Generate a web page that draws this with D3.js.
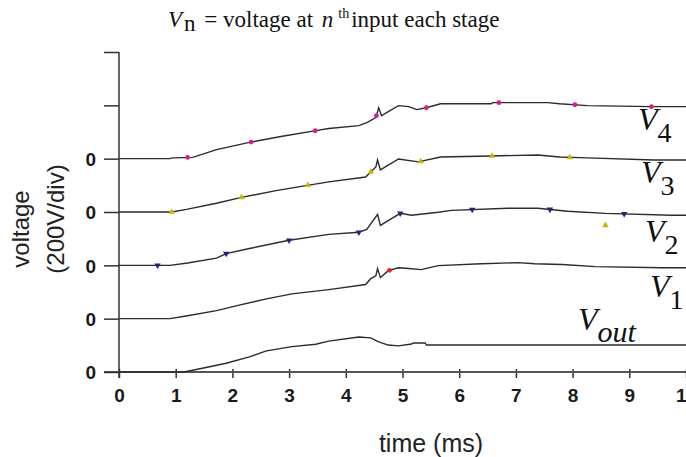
<!DOCTYPE html>
<html>
<head>
<meta charset="utf-8">
<script src="https://cdn.jsdelivr.net/npm/d3@7"></script>
<style>
  body { margin: 0; background: #fff; }
  svg { display: block; }
</style>
</head>
<body>
<div id="chart"></div>
<script>
// traces: [time (ms), volts above own baseline]
const vOut = [[0,0],[1.15,0],[1.47,14],[1.89,33],[2.3,57],[2.6,79],[3.05,95],[3.47,104],[3.7,116],[4.23,131],[4.44,128],[4.58,113],[4.75,101],[4.93,98],[5.16,105],[5.19,109],[5.4,109],[5.42,101],[10,101]];
const v1 = [[0,0],[0.9,0],[1.21,11],[1.72,30],[2.12,51],[2.6,74],[3.05,93],[3.7,109],[4.35,128],[4.44,150],[4.53,161],[4.56,188],[4.61,154],[4.75,180],[4.93,191],[5.11,188],[5.33,184],[5.63,199],[6.39,206],[7.04,210],[7.33,206],[7.82,203],[8.4,195],[9.58,191],[10,191]];
const v2 = [[0,0],[0.9,0],[1.21,9],[1.72,27],[1.89,44],[2.3,63],[3.0,94],[3.7,116],[4.23,124],[4.37,135],[4.56,191],[4.61,150],[4.96,195],[5.16,188],[5.63,199],[5.86,206],[6.86,214],[7.39,214],[7.91,203],[8.58,195],[9.75,188],[10,188]];
const v3 = [[0,0],[0.93,0],[1.19,10],[1.72,33],[2.16,55],[2.77,80],[3.35,101],[3.7,113],[4.35,131],[4.44,150],[4.53,169],[4.56,195],[4.61,158],[4.93,199],[5.28,188],[5.67,206],[6.56,210],[7.39,214],[7.77,206],[8.26,203],[9.44,195],[10,195]];
const v4 = [[0,0],[0.89,0],[0.95,3],[1.3,5],[1.72,34],[2.3,61],[2.88,84],[3.47,105],[3.7,113],[4.23,124],[4.37,135],[4.53,154],[4.58,191],[4.63,161],[4.72,173],[4.93,199],[5.11,195],[5.25,184],[5.42,191],[5.67,206],[6.56,206],[6.6,210],[7.56,210],[7.77,206],[8.26,199],[9.4,195],[10,195]];

// each trace is shifted up one division (200 V)
const traces = [vOut, v1, v2, v3, v4];
const offsets = [0, 200, 400, 600, 800];

// coloured sample marks sitting on the traces (times in ms)
const marksV4 = [1.21, 2.33, 3.46, 4.54, 5.42, 6.70, 8.04, 9.39];
const marksV3 = [0.93, 2.16, 3.33, 4.44, 5.32, 6.58, 7.95];
const marksV2 = [0.68, 1.89, 3.0, 4.23, 4.96, 6.23, 7.60, 8.91];
const marksV1 = [4.77];
const strayMark = [8.58, 550]; // lone yellow mark below V2

const xTicks = [0, 1, 2, 3, 4, 5, 6, 7, 8, 9, 10];
const yTicks = [0, 200, 400, 600, 800, 1000, 1200];

const width = 686, height = 457;
const svg = d3.select('#chart').append('svg')
    .attr('width', width)
    .attr('height', height);

const x = d3.scaleLinear().domain([0, 10]).range([119, 686]);
const y = d3.scaleLinear().domain([0, 1200]).range([372, 52]);

const sans = '"Liberation Sans", Arial, sans-serif';
const serif = '"Liberation Serif", "Times New Roman", serif';

// axe des x
const xAxis = svg.append('g')
    .attr('transform', `translate(0,${y(0)})`)
    .call(d3.axisBottom(x).tickValues(xTicks).tickSize(6).tickFormat(d => d));
xAxis.select('.domain').remove();
xAxis.selectAll('.tick line').attr('y1', -3).attr('stroke', '#333').attr('stroke-width', 1.5);
xAxis.selectAll('.tick text')
    .attr('y', 30).attr('dy', 0)
    .style('font', `bold 19px ${sans}`)
    .attr('fill', '#1a1a1a');
svg.append('line')
    .attr('x1', 104).attr('x2', width)
    .attr('y1', y(0)).attr('y2', y(0))
    .attr('stroke', '#555').attr('stroke-width', 2);

// axe des y
const yAxis = svg.append('g')
    .attr('transform', `translate(${x(0)},0)`)
    .call(d3.axisLeft(y).tickValues(yTicks).tickSize(15).tickPadding(8)
        .tickFormat(d => d <= 800 ? '0' : ''));
yAxis.select('.domain').remove();
yAxis.selectAll('.tick line').attr('stroke', '#333').attr('stroke-width', 1.5);
yAxis.selectAll('.tick text')
    .attr('dy', '0.36em')
    .style('font', `bold 19px ${sans}`)
    .attr('fill', '#1a1a1a');
svg.append('line')
    .attr('x1', x(0)).attr('x2', x(0))
    .attr('y1', y(1200)).attr('y2', y(0) + 6)
    .attr('stroke', '#333').attr('stroke-width', 1.5);

// traces
const line = d3.line()
    .x(d => x(d[0]))
    .y(d => y(d[1]));

traces.forEach((tr, i) => {
    svg.append('path')
        .datum(tr.map(d => [d[0], d[1] + offsets[i]]))
        .attr('fill', 'none')
        .attr('stroke', '#2b2b2b')
        .attr('stroke-width', 1.4)
        .attr('d', line);
});

// valeur d'une trace a un instant donne
function valueAt(tr, t) {
    for (let k = 1; k < tr.length; k++) {
        if (t <= tr[k][0]) {
            const a = tr[k - 1], b = tr[k];
            const f = (t - a[0]) / (b[0] - a[0] || 1);
            return a[1] + f * (b[1] - a[1]);
        }
    }
    return tr[tr.length - 1][1];
}

function drawMarks(times, tr, offset, symbol, color, rotate) {
    svg.selectAll(null)
        .data(times)
        .enter()
        .append('path')
        .attr('d', d3.symbol().type(symbol).size(18))
        .attr('fill', color)
        .attr('transform', t => `translate(${x(t)},${y(valueAt(tr, t) + offset)}) rotate(${rotate})`);
}

drawMarks(marksV4, v4, 800, d3.symbolCircle, '#d0208c', 0);
drawMarks(marksV3, v3, 600, d3.symbolTriangle, '#c2b800', 0);
drawMarks(marksV2, v2, 400, d3.symbolTriangle, '#23237e', 180);
drawMarks(marksV1, v1, 200, d3.symbolCircle, '#e02424', 0);
svg.append('path')
    .attr('d', d3.symbol().type(d3.symbolTriangle).size(18))
    .attr('fill', '#c2b800')
    .attr('transform', `translate(${x(strayMark[0])},${y(strayMark[1])})`);

// etiquettes des traces
const labels = [
    { sub: '4', x: 638, y: 130 },
    { sub: '3', x: 641, y: 183 },
    { sub: '2', x: 645, y: 242 },
    { sub: '1', x: 650, y: 297 },
    { sub: 'out', x: 578, y: 330, italicSub: true }
];
labels.forEach(l => {
    const t = svg.append('text')
        .attr('x', l.x).attr('y', l.y)
        .style('font-family', serif)
        .attr('fill', '#111');
    t.append('tspan').style('font-style', 'italic').style('font-size', '32px').text('V');
    t.append('tspan')
        .attr('dy', 12)
        .style('font-size', l.italicSub ? '30px' : '28px')
        .style('font-style', l.italicSub ? 'italic' : 'normal')
        .text(l.sub);
});

// titre
const title = svg.append('text')
    .attr('x', 168).attr('y', 27)
    .style('font-family', serif)
    .style('font-size', '23px')
    .attr('fill', '#111');
title.append('tspan').style('font-style', 'italic').text('V');
title.append('tspan').attr('dx', 2).attr('dy', 4).text('n');
title.append('tspan').attr('dx', 3).attr('dy', -4).text(' = voltage at ');
title.append('tspan').attr('dx', 3).style('font-style', 'italic').text('n');
title.append('tspan').attr('dx', 5).attr('dy', -9).style('font-size', '14px').text('th');
title.append('tspan').attr('dx', 2).attr('dy', 9).text('input each stage');

// titres des axes
svg.append('text')
    .attr('x', 431).attr('y', 452)
    .attr('text-anchor', 'middle')
    .style('font', `25px ${sans}`)
    .attr('fill', '#222')
    .text('time (ms)');
svg.append('text')
    .attr('transform', 'translate(29,229) rotate(-90)')
    .attr('text-anchor', 'middle')
    .style('font', `24px ${sans}`)
    .attr('fill', '#222')
    .text('voltage');
svg.append('text')
    .attr('transform', 'translate(64,219) rotate(-90)')
    .attr('text-anchor', 'middle')
    .style('font', `24px ${sans}`)
    .attr('fill', '#222')
    .text('(200V/div)');
</script>
</body>
</html>
